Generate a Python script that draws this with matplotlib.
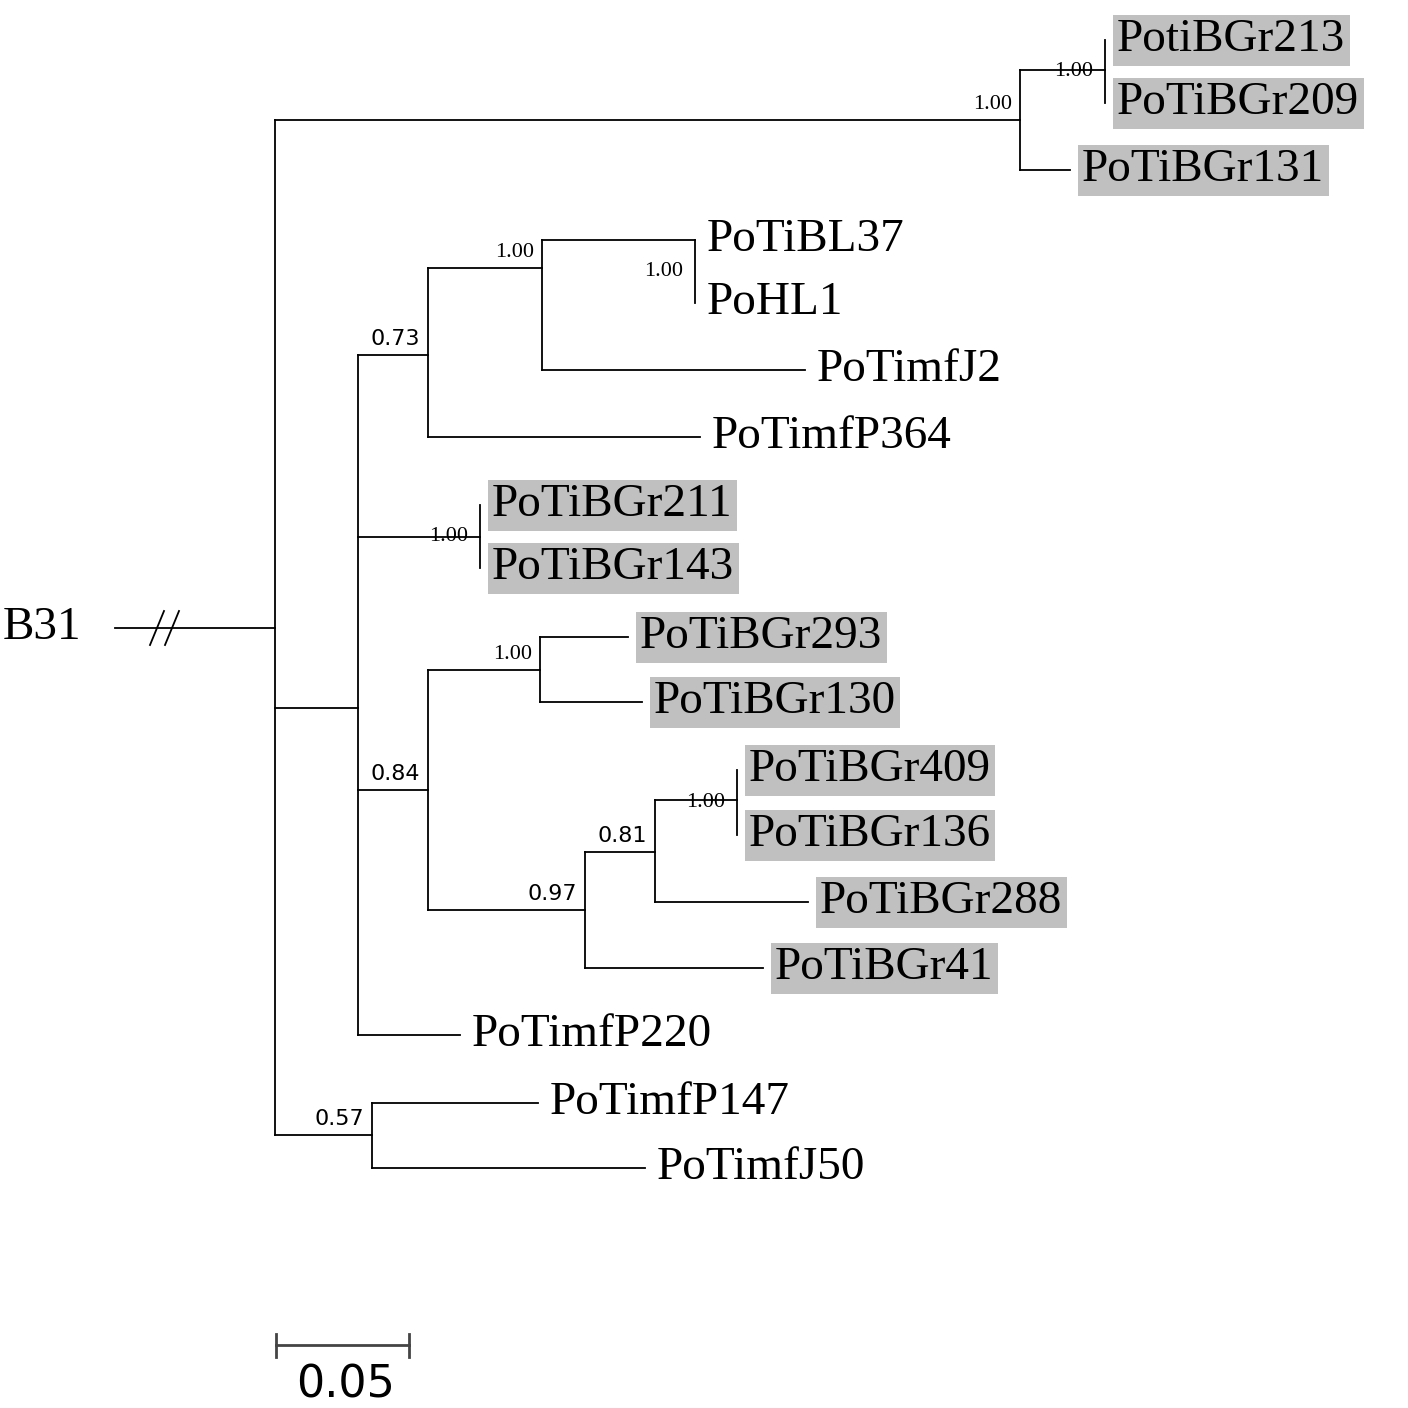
import matplotlib.pyplot as plt

# leaf names, tip x, y, shaded
leaf_names = ["PotiBGr213", "PoTiBGr209", "PoTiBGr131", "PoTiBL37", "PoHL1", "PoTimfJ2",
              "PoTimfP364", "PoTiBGr211", "PoTiBGr143", "PoTiBGr293", "PoTiBGr130",
              "PoTiBGr409", "PoTiBGr136", "PoTiBGr288", "PoTiBGr41", "PoTimfP220",
              "PoTimfP147", "PoTimfJ50"]
leaf_x = [1105, 1105, 1070, 695, 695, 805, 700, 480, 480, 628, 642, 737, 737, 808, 763, 460, 538, 645]
leaf_y = [40, 103, 170, 240, 303, 370, 437, 505, 568, 637, 702, 770, 835, 902, 968, 1035, 1103, 1168]
shaded = [1, 1, 1, 0, 0, 0, 0, 1, 1, 1, 1, 1, 1, 1, 1, 0, 0, 0]

# internal nodes: x, y of incoming branch, parent x, vertical span, support
node_x = [275, 1020, 1105, 358, 428, 542, 695, 480, 428, 540, 585, 655, 737, 372]
node_y = [628, 120, 70, 708, 355, 268, 240, 537, 790, 670, 910, 852, 800, 1135]
node_parent_x = [115, 275, 1020, 275, 358, 428, 542, 358, 358, 428, 428, 585, 655, 275]
node_top = [120, 70, 40, 355, 268, 240, 240, 505, 670, 637, 852, 800, 770, 1103]
node_bot = [1135, 170, 103, 1035, 437, 370, 303, 568, 910, 702, 968, 902, 835, 1168]
support = ["", "1.00", "1.00", "", "0.73", "1.00", "1.00", "1.00", "0.84", "1.00", "0.97", "0.81", "1.00", "0.57"]

# parent node x of each leaf
leaf_parent_x = [1105, 1105, 1020, 695, 695, 542, 428, 480, 480, 540, 540, 737, 737, 655, 585, 358, 372, 372]

fig = plt.figure(figsize=(14.08, 14.08), dpi=100)
ax = fig.add_axes([0, 0, 1, 1])
ax.set_xlim(0, 1408)
ax.set_ylim(1408, 0)
ax.axis("off")
lw = 1.3

for x, y, px, t, b, s in zip(node_x, node_y, node_parent_x, node_top, node_bot, support):
    ax.plot([px, x], [y, y], color="black", lw=lw)
    ax.plot([x, x], [t, b], color="black", lw=lw)
    if s:
        if x == 1105 or x == 695 or x == 480 or x == 737:
            # bracket style: label left of the small vertical
            ax.text(x - 12, (t + b) / 2, s, ha="right", va="center",
                    fontsize=16, family="Liberation Serif")
        else:
            ax.text(x - 8, y - 6, s, ha="right", va="bottom",
                    fontsize=16, family="DejaVu Sans" if s in ("0.73", "0.84", "0.97", "0.81", "0.57") else "Liberation Serif")

for name, tx, ty, sh, px in zip(leaf_names, leaf_x, leaf_y, shaded, leaf_parent_x):
    ax.plot([px, tx], [ty, ty], color="black", lw=lw)
    box = dict(facecolor="#c0c0c0", edgecolor="none", pad=3) if sh else None
    ax.text(tx + 12, ty, name, ha="left", va="center", fontsize=34,
            family="Liberation Serif", bbox=box)

# root label and break marks
ax.text(3, 628, "B31", ha="left", va="center", fontsize=34, family="Liberation Serif")
for bx in (150, 165):
    ax.plot([bx, bx + 14], [645, 611], color="black", lw=lw)

# scale bar
scale_x = [276, 409]
ax.plot(scale_x, [1345, 1345], color="#444444", lw=2)
for sx in scale_x:
    ax.plot([sx, sx], [1334, 1357], color="#444444", lw=2)
ax.text(346, 1385, "0.05", ha="center", va="center", fontsize=32, family="DejaVu Sans")

fig.savefig("out.png", dpi=100)
